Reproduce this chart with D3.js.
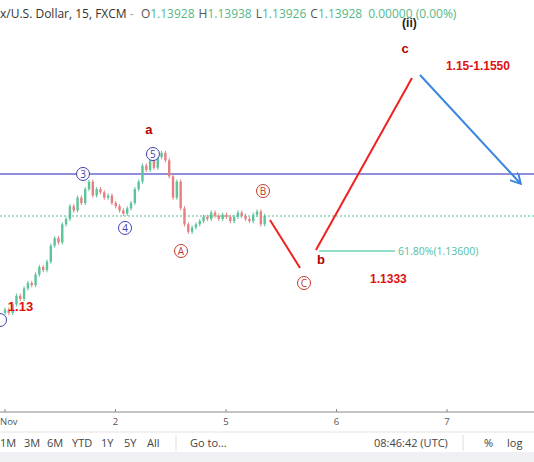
<!DOCTYPE html>
<html><head><meta charset="utf-8">
<script src="https://cdn.jsdelivr.net/npm/d3@7"></script>
<style>body{margin:0;background:#fff}svg{font-family:"Open Sans",sans-serif}</style>
</head><body>
<svg id="c" width="534" height="462"></svg>
<script>
// closes, one per 15m-ish candle (approximate)
var closes = [1.1305,1.1302,1.1310,1.1318,1.1315,1.1325,1.1330,1.1328,
  1.1338,1.1345,1.1342,1.1350,1.1365,1.1372,1.1368,1.1385,
  1.1390,1.1402,1.1398,1.1410,1.1405,1.1418,1.1425,1.1412,
  1.1418,1.1415,1.1410,1.1412,1.1405,1.1402,1.1398,1.1395,
  1.1400,1.1405,1.1418,1.1425,1.1440,1.1436,1.1445,1.1438,
  1.1448,1.1452,1.1445,1.1430,1.1410,1.1425,1.1400,1.1385,
  1.1378,1.1382,1.1385,1.1388,1.1392,1.1390,1.1396,1.1393,
  1.1390,1.1394,1.1392,1.1388,1.1392,1.1396,1.1393,
  1.1390,1.1388,1.1394,1.1397,1.1385,1.1393];
var dayTicks = [0,1,2,3,4];
var dayLabels = ["Nov","2","5","6","7"];
var levelLine = 1.14322, lastPrice = 1.13928, fibLevel = 1.13600;
// wave circles: [t, price, label, colour]
var circles = [[0.706,1.14322,"3","#3f3fb0"],[1.086,1.13816,"4","#3f3fb0"],[1.339,1.14509,"5","#3f3fb0"],
  [-0.045,1.12953,"","#3f3fb0"],[1.593,1.13600,"A","#c0392b"],[2.335,1.14162,"B","#c0392b"],[2.706,1.13300,"C","#c0392b"]];
var labels = [[1.303,1.14700,"a","#b00000",13],[0.14,1.13040,"1.13","#e01010",13],[2.86,1.13480,"b","#b00000",13],
  [3.62,1.15460,"c","#b00000",13],[3.66,1.15700,"(ii)","#222",12],[4.28,1.15300,"1.15-1.1550","#e01010",12],
  [3.47,1.13300,"1.1333","#e01010",12]];
var redLegs = [[[2.398,1.13891],[2.670,1.13441]],[[2.814,1.13609],[3.683,1.15221]]];
var blueLeg = [[3.756,1.15249],[4.661,1.14237]];
var fibSpan = [2.842,3.529];

var svg = d3.select("#c");
var x = d3.scaleLinear().domain([0,4]).range([5,447]);
var y = d3.scaleLinear().domain([1.13928,1.14928]).range([216,109.3]);
var step = 2.35/(closes.length-1);

svg.append("defs").append("marker").attr("id","arr").attr("viewBox","0 0 10 10").attr("refX",8).attr("refY",5)
  .attr("markerWidth",6).attr("markerHeight",6).attr("orient","auto")
  .append("path").attr("d","M0,0L9,5L0,10").attr("fill","none").attr("stroke","#3a86e0").attr("stroke-width",1.6);

// header
var h = svg.append("text").attr("x",0).attr("y",18).attr("font-size",12);
h.append("tspan").attr("fill","#333").text("x/U.S. Dollar, 15, FXCM ");
h.append("tspan").attr("fill","#aaa").text("‑  ");
[["O","1.13928"],["H","1.13938"],["L","1.13926"],["C","1.13928"]].forEach(function(p){
  h.append("tspan").attr("fill","#555").attr("dx",4).text(p[0]);
  h.append("tspan").attr("fill","#53b987").text(p[1]);
});
h.append("tspan").attr("fill","#53b987").attr("dx",6).text("0.00000 (0.00%)");

// levels
svg.append("line").attr("x1",0).attr("x2",534).attr("y1",y(levelLine)).attr("y2",y(levelLine)).attr("stroke","#6a6ad0").attr("stroke-width",1.5);
svg.append("line").attr("x1",0).attr("x2",534).attr("y1",y(lastPrice)).attr("y2",y(lastPrice)).attr("stroke","#53b987").attr("stroke-dasharray","2,2");

// candles
closes.forEach(function(c,i){
  var o = i ? closes[i-1] : c - 0.0003;
  var cx = x(i*step), up = c >= o, col = up ? "#5cc39a" : "#e58080";
  svg.append("line").attr("x1",cx).attr("x2",cx).attr("y1",y(Math.max(o,c)+0.0002)).attr("y2",y(Math.min(o,c)-0.0002)).attr("stroke",col);
  svg.append("rect").attr("x",cx-1.2).attr("width",2.4).attr("y",y(Math.max(o,c))).attr("height",Math.max(1,Math.abs(y(o)-y(c)))).attr("fill",col);
});

var line = d3.line().x(function(d){return x(d[0]);}).y(function(d){return y(d[1]);});
redLegs.forEach(function(l){ svg.append("path").attr("d",line(l)).attr("stroke","#f02020").attr("stroke-width",2).attr("fill","none"); });
svg.append("path").attr("d",line(blueLeg)).attr("stroke","#3a86e0").attr("stroke-width",2).attr("fill","none").attr("marker-end","url(#arr)");
svg.append("line").attr("x1",x(fibSpan[0])).attr("x2",x(fibSpan[1])).attr("y1",y(fibLevel)).attr("y2",y(fibLevel)).attr("stroke","#6fd3b3").attr("stroke-width",1.3);
svg.append("text").attr("x",x(fibSpan[1])+3).attr("y",y(fibLevel)+4).attr("font-size",10.5).attr("fill","#53c0a0").text("61.80%(1.13600)");

circles.forEach(function(d){
  var g = svg.append("g").attr("transform","translate("+x(d[0])+","+y(d[1])+")");
  g.append("circle").attr("r",6.5).attr("fill","#fff").attr("stroke",d[3]).attr("stroke-width",1);
  g.append("text").attr("text-anchor","middle").attr("y",4).attr("font-size",10).attr("fill",d[3]).text(d[2]);
});
labels.forEach(function(d){
  svg.append("text").attr("x",x(d[0])).attr("y",y(d[1])).attr("text-anchor","middle").attr("font-family","Arial,Liberation Sans,sans-serif")
    .attr("font-weight","bold").attr("font-size",d[4]).attr("fill",d[3]).text(d[2]);
});

// time axis
var ax = svg.append("g").attr("transform","translate(0,412)");
ax.append("line").attr("x1",0).attr("x2",534).attr("stroke","#888");
dayTicks.forEach(function(t,i){
  ax.append("line").attr("x1",x(t)).attr("x2",x(t)).attr("y2",-3).attr("stroke","#888");
  ax.append("text").attr("x",i ? x(t) : 0).attr("y",13).attr("text-anchor",i ? "middle" : "start").attr("font-size",9.5).attr("fill","#555").text(dayLabels[i]);
});
svg.append("line").attr("x1",0).attr("x2",534).attr("y1",432).attr("y2",432).attr("stroke","#e4e4e4");
svg.append("rect").attr("y",452).attr("width",534).attr("height",10).attr("fill","#eef0f3");
var btns = [["1M",0],["3M",24],["6M",47],["YTD",72],["1Y",101],["5Y",124],["All",147],["Go to...",190],["08:46:42 (UTC)",374],["%",484],["log",507]];
btns.forEach(function(b){ svg.append("text").attr("x",b[1]).attr("y",447).attr("font-size",11).attr("fill","#444").text(b[0]); });
[176,463].forEach(function(s){ svg.append("line").attr("x1",s).attr("x2",s).attr("y1",435).attr("y2",451).attr("stroke","#ddd"); });
</script>
</body></html>
